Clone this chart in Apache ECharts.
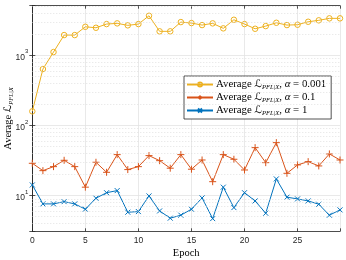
<!DOCTYPE html>
<html>
<head>
<meta charset="utf-8">
<script src="https://cdn.jsdelivr.net/npm/echarts@6/dist/echarts.min.js"></script>
<style>html,body{margin:0;padding:0;background:#fff}#c{width:346px;height:260px}</style>
</head>
<body>
<div id="c"></div>
<script>
const epochs = Array.from({length: 30}, (_, i) => i);
const seriesNames = ['a0001', 'a01', 'a1'];
const alphaLabels = ['0.001', '0.1', '1'];
const lossAlpha0001 = [159, 638, 1114, 1945, 1945, 2552, 2472, 2791, 2856, 2675, 2791, 3664, 2198, 2198, 2979, 2884, 2701, 2856, 2425, 3213, 2791, 2393, 2612, 2912, 2701, 2729, 3011, 3154, 3367, 3367];
const lossAlpha01 = [28.9, 22.7, 25.9, 31.9, 25.9, 13.2, 29.9, 21.5, 38.4, 23.5, 25.9, 37.2, 31.5, 24.6, 38.4, 23.8, 32.2, 15.8, 38.4, 33.0, 23.2, 48.3, 29.5, 56.9, 20.8, 27.4, 30.5, 26.5, 39.3, 32.2];
const lossAlpha1 = [14.2, 7.62, 7.62, 8.21, 7.62, 6.40, 9.18, 11.0, 11.8, 5.80, 5.92, 9.90, 6.05, 4.77, 5.26, 6.40, 9.27, 4.70, 13.2, 6.75, 11.0, 8.40, 5.61, 17.3, 9.49, 8.98, 8.40, 7.54, 5.26, 6.26];
const xTicks = [0, 5, 10, 15, 20, 25];
const yMin = 3.1, yMax = 5100;

const minorGrid = [];
[1, 10, 100, 1000].forEach(d => { for (let k = 2; k <= 9; k++) { const v = k * d; if (v > yMin && v < yMax) minorGrid.push({yAxis: v}); } });

const colors = ['#EDB120', '#D95319', '#0072BD'];
const axisColor = '#262626';
const serif = '"Liberation Serif", "DejaVu Serif", serif';
const sans = '"Liberation Sans", Arial, sans-serif';

const chart = echarts.init(document.getElementById('c'), null, {renderer: 'canvas'});
const plusPath = 'path://M5,0L5,10M0,5L10,5';
const crossPath = 'path://M0,0L10,10M0,10L10,0';

function mkSeries(name, data, color, symbol, size, extra) {
  return Object.assign({
    name: name, type: 'line', xAxisIndex: 0, yAxisIndex: 0,
    data: epochs.map((e, i) => [e, data[i]]),
    symbol: symbol, symbolSize: size,
    lineStyle: {color: color, width: 1},
    itemStyle: {color: 'rgba(0,0,0,0)', borderColor: color, borderWidth: 1},
    emphasis: {disabled: true}, animation: false, z: 3
  }, extra || {});
}

const richL = {fontFamily: '"DejaVu Sans", sans-serif', fontSize: 10.5};
const richSub = {fontFamily: serif, fontStyle: 'italic', fontSize: 6.5, verticalAlign: 'bottom', lineHeight: 13};

chart.setOption({
  animation: false,
  grid: {left: 32.3, right: 6, top: 5.7, bottom: 28.7, containLabel: false, outerBoundsMode: 'none'},
  xAxis: [{
    type: 'value', min: 0, max: 29, interval: 5, position: 'bottom',
    name: 'Epoch', nameLocation: 'middle', nameGap: 16, nameMoveOverlap: false,
    nameTextStyle: {fontFamily: serif, fontSize: 10.5, color: '#000'},
    axisLine: {lineStyle: {color: axisColor, width: 0.8}},
    axisTick: {inside: true, length: 3, lineStyle: {color: axisColor, width: 0.8}},
    axisLabel: {fontFamily: sans, fontSize: 8.5, color: axisColor, margin: 5,
      formatter: v => (xTicks.indexOf(v) >= 0 ? String(v) : '')},
    splitLine: {show: true, lineStyle: {color: '#e3e3e3', width: 0.8}}
  }, {
    type: 'value', min: 0, max: 29, interval: 5, position: 'top',
    axisLine: {lineStyle: {color: axisColor, width: 0.8}},
    axisTick: {inside: true, length: 3, lineStyle: {color: axisColor, width: 0.8}},
    axisLabel: {show: false}, splitLine: {show: false}
  }],
  yAxis: [{
    type: 'log', logBase: 10, min: yMin, max: yMax, position: 'left',
    name: 'Average {L|ℒ}{sub|PFL|X}', nameLocation: 'middle', nameGap: 18, nameMoveOverlap: false,
    nameTextStyle: {fontFamily: serif, fontSize: 10.5, color: '#000', lineHeight: 13, rich: {L: richL, sub: richSub}},
    axisLine: {lineStyle: {color: axisColor, width: 0.8}},
    axisTick: {inside: true, length: 3, lineStyle: {color: axisColor, width: 0.8}},
    axisLabel: {fontFamily: sans, color: axisColor, margin: 4,
      formatter: v => { const l = Math.log10(v); if (Math.abs(l - Math.round(l)) < 1e-6) return '{b|10}{s|' + Math.round(l) + '}'; return ''; },
      rich: {b: {fontSize: 8.5, fontFamily: sans, color: axisColor, lineHeight: 13, verticalAlign: 'bottom'},
             s: {fontSize: 6, fontFamily: sans, color: axisColor, lineHeight: 13, verticalAlign: 'top'}}},
    splitLine: {show: true, lineStyle: {color: '#e3e3e3', width: 0.8}}
  }, {
    type: 'log', logBase: 10, min: yMin, max: yMax, position: 'right',
    axisLine: {lineStyle: {color: axisColor, width: 0.8}},
    axisTick: {inside: true, length: 3, lineStyle: {color: axisColor, width: 0.8}},
    axisLabel: {show: false}, splitLine: {show: false}
  }],
  legend: {
    orient: 'vertical', left: 184, top: 76,
    data: seriesNames,
    itemWidth: 26, itemHeight: 5, itemGap: 0,
    padding: [2, 5, 2, 2],
    backgroundColor: '#fff', borderColor: axisColor, borderWidth: 0.8, borderRadius: 0,
    formatter: n => 'Average {L|ℒ}{sub|PFL|X}, {it|α} = ' + alphaLabels[seriesNames.indexOf(n)],
    textStyle: {fontFamily: serif, fontSize: 10.8, color: '#000', padding: [0, 0, 0, -2], lineHeight: 13,
      rich: {L: richL, sub: richSub,
             it: {fontFamily: serif, fontStyle: 'italic', fontSize: 10.8}}},
    selectedMode: false
  },
  series: [
    mkSeries('a0001', lossAlpha0001, colors[0], 'circle', 5.5, {
      markLine: {silent: true, symbol: 'none', label: {show: false}, animation: false,
        lineStyle: {color: '#d6d6d6', type: [1, 2], width: 0.7}, data: minorGrid}
    }),
    mkSeries('a01', lossAlpha01, colors[1], plusPath, 7),
    mkSeries('a1', lossAlpha1, colors[2], crossPath, 5)
  ]
});
</script>
</body>
</html>
